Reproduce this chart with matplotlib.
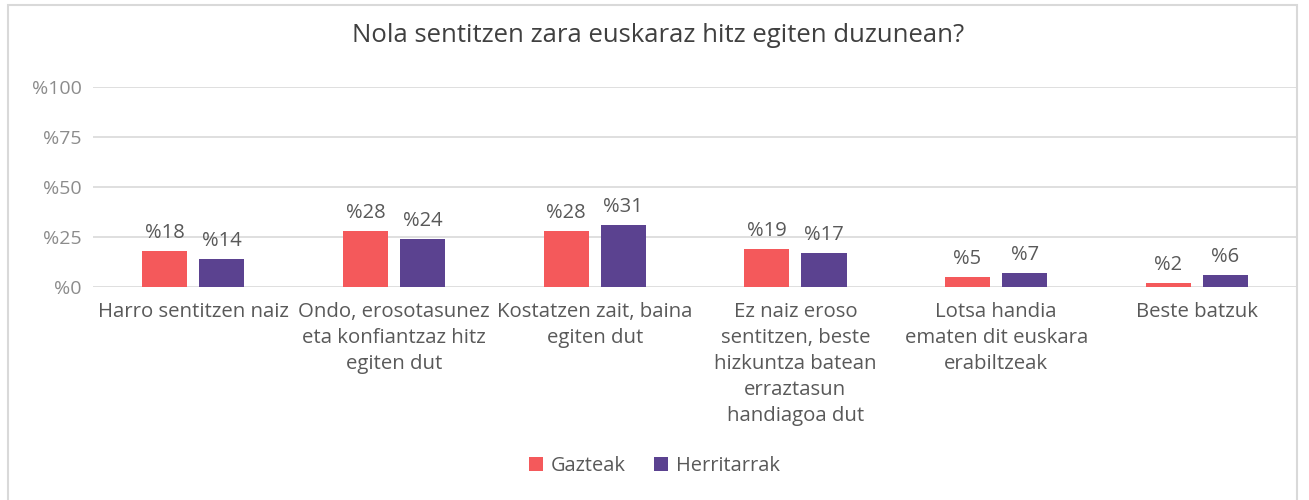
import numpy as np
import matplotlib
matplotlib.use("Agg")
import matplotlib.pyplot as plt
from matplotlib.patches import Rectangle

plt.rcParams['font.family'] = ['Open Sans', 'DejaVu Sans']

title = "Nola sentitzen zara euskaraz hitz egiten duzunean?"
categories = [
    "Harro sentitzen naiz",
    "Ondo, erosotasunez\neta konfiantzaz hitz\negiten dut",
    "Kostatzen zait, baina\negiten dut",
    "Ez naiz eroso\nsentitzen, beste\nhizkuntza batean\nerraztasun\nhandiagoa dut",
    "Lotsa handia\nematen dit euskara\nerabiltzeak",
    "Beste batzuk",
]
gazteak = [18, 28, 28, 19, 5, 2]
herritarrak = [14, 24, 31, 17, 7, 6]
yticks = [0, 25, 50, 75, 100]

red = "#F4595B"
purple = "#5B4290"
grey = "#595959"

fig = plt.figure(figsize=(13.09, 5), dpi=100)
ax = fig.add_axes([0.071, 0.426, 0.92, 0.40])

x = np.arange(len(categories))
w = 0.225
gap = 0.06
ax.bar(x - (w + gap) / 2, gazteak, w, color=red, label="Gazteak", zorder=3)
ax.bar(x + (w + gap) / 2, herritarrak, w, color=purple, label="Herritarrak", zorder=3)

for i in range(len(categories)):
    ax.text(x[i] - (w + gap) / 2, gazteak[i] + 4, "%" + str(gazteak[i]),
            ha="center", va="bottom", fontsize=14.5, color=grey)
    ax.text(x[i] + (w + gap) / 2, herritarrak[i] + 4, "%" + str(herritarrak[i]),
            ha="center", va="bottom", fontsize=14.5, color=grey)

ax.set_xlim(-0.5, len(categories) - 0.5)
ax.set_ylim(0, 100)
ax.set_yticks(yticks)
ax.set_yticklabels(["%" + str(t) for t in yticks], fontsize=14, color="#8c8c8c")
ax.set_xticks(x)
ax.set_xticklabels(categories, fontsize=14.7, color=grey, linespacing=1.4, va="top")
ax.tick_params(axis="both", length=0)
ax.tick_params(axis="x", pad=11)
ax.tick_params(axis="y", pad=8)
ax.grid(axis="y", color="#d9d9d9", linewidth=1.2, zorder=0)
for s in ax.spines.values():
    s.set_visible(False)

fig.text(0.503, 0.93, title, ha="center", va="center", fontsize=18.5, color="#404040")

leg = fig.legend(loc="center", bbox_to_anchor=(0.5, 0.068), ncol=2, frameon=False,
                 fontsize=14.4, handlelength=0.7, handleheight=0.7, handletextpad=0.4,
                 columnspacing=1.4)
for t in leg.get_texts():
    t.set_color(grey)

fig.patches.append(Rectangle((0.006, -0.01), 0.985, 1.0, transform=fig.transFigure,
                             fill=False, edgecolor="#d9d9d9", linewidth=1.5))

fig.savefig("out.png", dpi=100)
